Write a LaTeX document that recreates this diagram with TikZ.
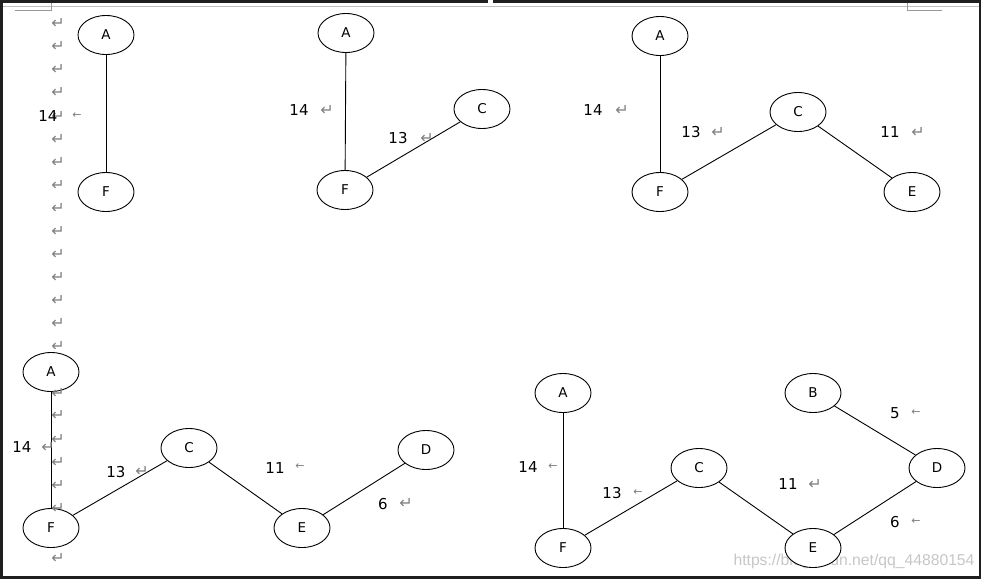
\documentclass[tikz,border=0pt]{standalone}
\usepackage{fontspec}
\setmainfont{DejaVu Sans}
\newfontfamily\urlfont{Liberation Sans}
\usetikzlibrary{shapes.geometric}
\begin{document}
\begin{tikzpicture}[x=1pt,y=-1pt,
  vtx/.style={draw, fill=white, ellipse, minimum width=56pt, minimum height=39pt, inner sep=0pt,
    line width=0.9pt, font=\fontsize{13.5}{13.5}\selectfont},
  edge/.style={line width=0.9pt},
  wt/.style={inner sep=0pt, font=\fontsize{15}{15}\selectfont},
  pm/.style={inner sep=0pt, text=black!50, font=\fontsize{16}{16}\selectfont},
  sa/.style={inner sep=0pt, text=black!50, font=\fontsize{11}{11}\selectfont},
  frame/.style={fill=black!88},
  corner/.style={draw=black!40, line width=0.8pt}]
\useasboundingbox (0,0) rectangle (981,579);
\fill[white] (0,0) rectangle (981,579);
% page marks
\draw[black!25, line width=1pt] (3,6) -- (979,6);
\draw[corner] (15,10) -- (51,10) -- (51,3);
\draw[corner] (942,10) -- (907,10) -- (907,3);
% paragraph marks column
\foreach \y [count=\i] in {23,46.5,69.5,92.5,116,139,162,185,208,231,254,277,300,323,346,415.5,439,462,485,558}
  \node[pm] (pm\i) at (58,\y) {↵};
% watermark url
\node[inner sep=0pt, text=black!22, font=\urlfont\fontsize{15.7}{15.7}\selectfont] (url) at (854,561) {https://blog.csdn.net/qq\_44880154};

% ---------- graph 1 ----------
\node[vtx] (a1) at (106,35) {A};
\node[vtx] (f1) at (106,192) {F};
\draw[edge] (a1) -- (f1);
\node[wt] (w1a) at (48,116) {14};
\node[sa] (m1a) at (77,116) {←};

% ---------- graph 2 ----------
\node[vtx] (a2) at (346,33) {A};
\node[vtx] (f2) at (345,190) {F};
\node[vtx] (c2) at (482,109) {C};
\draw[edge] (a2) -- (f2);
\draw[edge] (f2) -- (c2);
\node[wt] (w2a) at (299,110) {14};
\node[pm] (m2a) at (327,110) {↵};
\node[wt] (w2b) at (398,138) {13};
\node[pm] (m2b) at (427,138) {↵};

% ---------- graph 3 ----------
\node[vtx] (a3) at (660,36) {A};
\node[vtx] (f3) at (660,192) {F};
\node[vtx] (c3) at (798,112) {C};
\node[vtx] (e3) at (912,192) {E};
\draw[edge] (a3) -- (f3);
\draw[edge] (f3) -- (c3);
\draw[edge] (c3) -- (e3);
\node[wt] (w3a) at (593,110) {14};
\node[pm] (m3a) at (622,110) {↵};
\node[wt] (w3b) at (691,132) {13};
\node[pm] (m3b) at (718,132) {↵};
\node[wt] (w3c) at (890,132) {11};
\node[pm] (m3c) at (918,132) {↵};

% ---------- graph 4 ----------
\node[vtx] (a4) at (51,372) {A};
\node[vtx] (f4) at (51,528) {F};
\node[vtx] (c4) at (189,448) {C};
\node[vtx] (e4) at (302,528) {E};
\node[vtx] (d4) at (426,450) {D};
\draw[edge] (a4) -- (f4);
\draw[edge] (f4) -- (c4);
\draw[edge] (c4) -- (e4);
\draw[edge] (e4) -- (d4);
\node[pm] (pmA) at (58,393) {↵};
\node[pm] (pmB) at (58,508) {↵};
\node[wt] (w4a) at (22,447) {14};
\node[pm] (m4a) at (48,447) {↵};
\node[wt] (w4b) at (116,472) {13};
\node[pm] (m4b) at (142,471) {↵};
\node[wt] (w4c) at (275,468) {11};
\node[sa] (m4c) at (300,467) {←};
\node[wt] (w4d) at (383,504) {6};
\node[pm] (m4d) at (406,503) {↵};

% ---------- graph 5 ----------
\node[vtx] (a5) at (563,393) {A};
\node[vtx] (f5) at (563,548) {F};
\node[vtx] (c5) at (699,468) {C};
\node[vtx] (e5) at (813,548) {E};
\node[vtx] (b5) at (813,393) {B};
\node[vtx] (d5) at (937,468) {D};
\draw[edge] (a5) -- (f5);
\draw[edge] (f5) -- (c5);
\draw[edge] (c5) -- (e5);
\draw[edge] (e5) -- (d5);
\draw[edge] (b5) -- (d5);
\node[wt] (w5a) at (528,467) {14};
\node[sa] (m5a) at (553,467) {←};
\node[wt] (w5b) at (612,493) {13};
\node[sa] (m5b) at (638,493) {←};
\node[wt] (w5c) at (788,484) {11};
\node[pm] (m5c) at (815,484) {↵};
\node[wt] (w5d) at (895,413) {5};
\node[sa] (m5d) at (916,413) {←};
\node[wt] (w5e) at (895,522) {6};
\node[sa] (m5e) at (916,522) {←};

% frame
\fill[frame] (0,0) rectangle (981,3);
\fill[frame] (0,0) rectangle (3,579);
\fill[frame] (0,576) rectangle (981,579);
\fill[frame] (979,0) rectangle (981,579);
\fill[white] (488,0) rectangle (493,3);
\end{tikzpicture}
\end{document}
